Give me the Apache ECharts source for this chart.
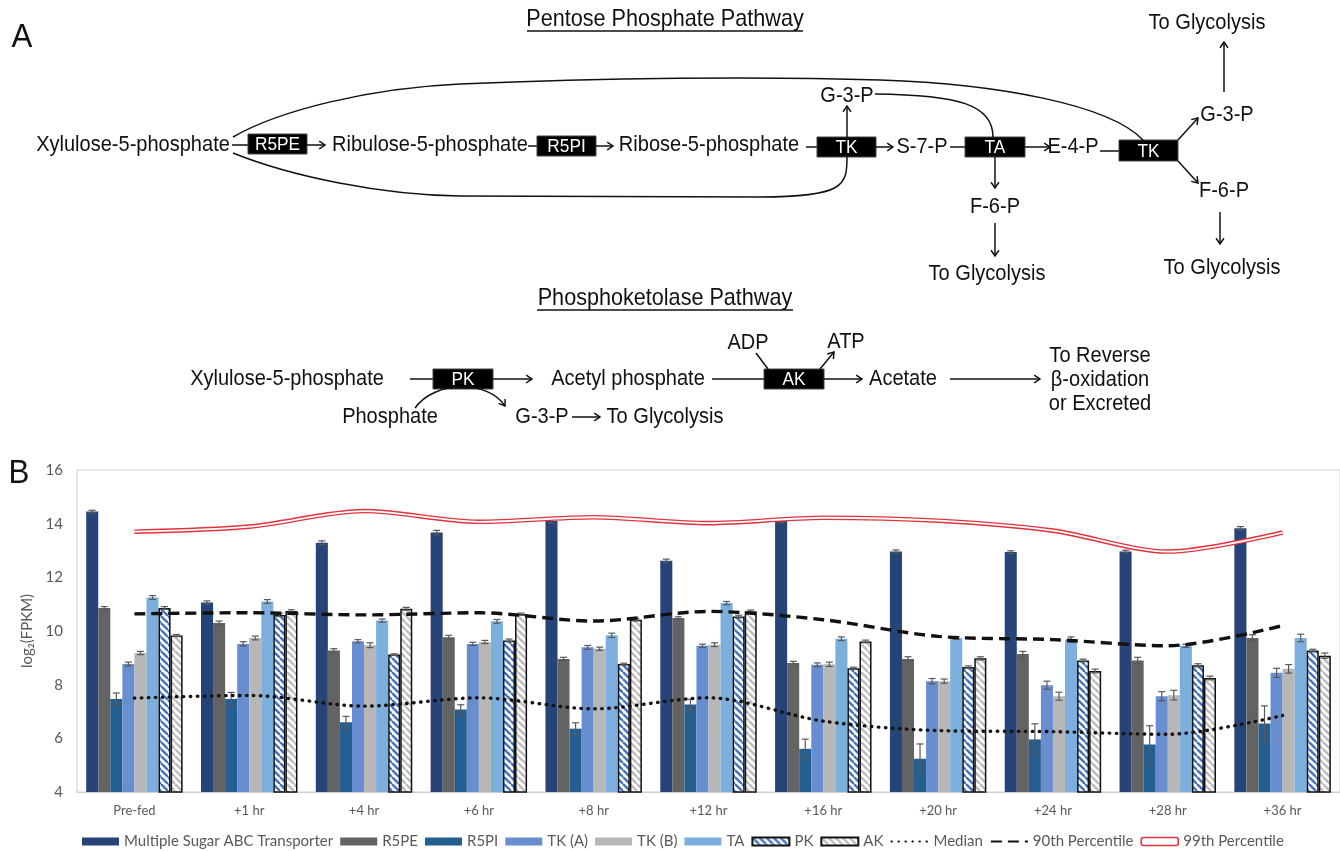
<!DOCTYPE html>
<html>
<head>
<meta charset="utf-8">
<title>Pentose phosphate / phosphoketolase pathway expression</title>
<script src="https://cdn.jsdelivr.net/npm/echarts@6/dist/echarts.min.js"></script>
<style>
  html, body { margin: 0; padding: 0; background: #fff; }
  #chart { width: 1340px; height: 851px; }
</style>
</head>
<body>
<div id="chart"></div>
<script>
// ---- data ----
const timepoints = ['Pre-fed', '+1 hr', '+4 hr', '+6 hr', '+8 hr', '+12 hr', '+16 hr', '+20 hr', '+24 hr', '+28 hr', '+36 hr']

const sugarAbc    = [14.45, 11.06, 13.29, 13.67, 14.10, 12.62, 14.10, 12.96, 12.94, 12.96, 13.83]
const sugarAbcErr = [0.05, 0.06, 0.07, 0.08, 0.08, 0.06, 0.07, 0.06, 0.05, 0.05, 0.06]
const r5pe        = [10.86, 10.30, 9.27, 9.77, 8.96, 10.48, 8.81, 8.96, 9.14, 8.90, 9.74]
const r5peErr     = [0.05, 0.07, 0.07, 0.07, 0.06, 0.05, 0.06, 0.08, 0.10, 0.12, 0.12]
const r5pi        = [7.47, 7.47, 6.60, 7.07, 6.36, 7.26, 5.61, 5.24, 5.96, 5.77, 6.55]
const r5piErr     = [0.22, 0.24, 0.22, 0.18, 0.22, 0.20, 0.36, 0.55, 0.58, 0.70, 0.66]
const tkA         = [8.77, 9.52, 9.62, 9.52, 9.39, 9.45, 8.74, 8.13, 7.98, 7.57, 8.44]
const tkAErr      = [0.07, 0.08, 0.06, 0.06, 0.07, 0.06, 0.07, 0.10, 0.15, 0.17, 0.17]
const tkB         = [9.18, 9.74, 9.47, 9.59, 9.34, 9.49, 8.76, 8.13, 7.57, 7.61, 8.59]
const tkBErr      = [0.06, 0.07, 0.09, 0.06, 0.06, 0.07, 0.08, 0.08, 0.15, 0.18, 0.16]
const ta          = [11.25, 11.10, 10.39, 10.36, 9.84, 11.04, 9.71, 9.74, 9.68, 9.45, 9.74]
const taErr       = [0.07, 0.07, 0.06, 0.07, 0.08, 0.06, 0.07, 0.05, 0.10, 0.06, 0.14]
const pk          = [10.86, 10.60, 9.12, 9.65, 8.77, 10.54, 8.61, 8.66, 8.90, 8.72, 9.27]
const pkErr       = [0.05, 0.06, 0.03, 0.05, 0.03, 0.05, 0.04, 0.04, 0.05, 0.06, 0.05]
const ak          = [9.83, 10.75, 10.83, 10.63, 10.42, 10.73, 9.61, 8.98, 8.51, 8.25, 9.08]
const akErr       = [0.04, 0.04, 0.05, 0.04, 0.04, 0.05, 0.05, 0.06, 0.07, 0.07, 0.10]

const median = [7.50, 7.60, 7.20, 7.51, 7.10, 7.51, 6.64, 6.29, 6.25, 6.15, 6.85]
const p90    = [10.64, 10.68, 10.60, 10.68, 10.37, 10.73, 10.42, 9.80, 9.68, 9.45, 10.20]
const p99    = [13.70, 13.89, 14.47, 14.07, 14.24, 14.02, 14.22, 14.11, 13.74, 12.96, 13.67]

const yMin = 4
const yMax = 16
const yStep = 2

// ---- look ----
const CFONT = 'Lato, "DejaVu Sans", sans-serif'
const DFONT = '"Liberation Sans", Arial, sans-serif'
const SQUEEZE = 0.91   // the diagram font is a narrow humanist face
const GREY_TXT = '#595959'
const INK = '#111'
const RED = '#e0333d'
const NBARS = 8
const GAP = 0.16

// diagonal hatch used by the PK / AK bars
function stripes(ink) {
  const c = document.createElement('canvas')
  c.width = c.height = 7
  const g = c.getContext('2d')
  g.fillStyle = '#fff'
  g.fillRect(0, 0, 7, 7)
  g.strokeStyle = ink
  g.lineWidth = 2.4
  for (const k of [-7, 0, 7]) {
    g.beginPath()
    g.moveTo(k, 0)
    g.lineTo(k + 7, 7)
    g.stroke()
  }
  return c
}

const barDefs = [
  { name: 'Multiple Sugar ABC Transporter', vals: sugarAbc, errs: sugarAbcErr, style: { color: '#264478' } },
  { name: 'R5PE', vals: r5pe, errs: r5peErr, style: { color: '#636363' } },
  { name: 'R5PI', vals: r5pi, errs: r5piErr, style: { color: '#255e91' } },
  { name: 'TK (A)', vals: tkA, errs: tkAErr, style: { color: '#698ed0' } },
  { name: 'TK (B)', vals: tkB, errs: tkBErr, style: { color: '#b7b7b7' } },
  { name: 'TA', vals: ta, errs: taErr, style: { color: '#7cafdd' } },
  { name: 'PK', vals: pk, errs: pkErr,
    style: { color: { image: stripes('#4472c4'), repeat: 'repeat' }, borderColor: INK, borderWidth: 1.5 } },
  { name: 'AK', vals: ak, errs: akErr,
    style: { color: { image: stripes('#bdbdbd'), repeat: 'repeat' }, borderColor: INK, borderWidth: 1.5 } },
]

function errorSeries(def, idx) {
  return {
    type: 'custom',
    name: def.name + ' err',
    silent: true,
    z: 3,
    data: def.vals.map((v, i) => [i, v, def.errs[i]]),
    renderItem(params, api) {
      const c = api.value(0)
      const v = api.value(1)
      const e = api.value(2)
      const band = api.size([1, 0])[0]
      const bw = band * (1 - GAP) / NBARS
      const x = api.coord([c, v])[0] + (idx - (NBARS - 1) / 2) * bw
      const hi = api.coord([c, v + e])[1]
      const lo = api.coord([c, v - e])[1]
      const st = { stroke: GREY_TXT, lineWidth: 1.2 }
      return {
        type: 'group',
        children: [
          { type: 'line', shape: { x1: x, y1: hi, x2: x, y2: lo }, style: st },
          { type: 'line', shape: { x1: x - 3.5, y1: hi, x2: x + 3.5, y2: hi }, style: st },
          { type: 'line', shape: { x1: x - 3.5, y1: lo, x2: x + 3.5, y2: lo }, style: st },
        ],
      }
    },
  }
}

// ---- panel A helpers ----
function label(x, y, text, size, extra, squeeze) {
  return {
    type: 'text', silent: true, x, y, scaleX: squeeze || SQUEEZE,
    style: Object.assign({
      x: 0, y: 0, text, fill: INK, fontSize: size || 22, fontFamily: DFONT,
      align: 'center', verticalAlign: 'middle',
    }, extra || {}),
  }
}
function seg(x1, y1, x2, y2) {
  return { type: 'line', silent: true, shape: { x1, y1, x2, y2 }, style: { stroke: INK, lineWidth: 1.5 } }
}
function head(x, y, ang) {
  const L = 7, w = 0.6
  return {
    type: 'polyline', silent: true,
    shape: { points: [
      [x - L * Math.cos(ang - w), y - L * Math.sin(ang - w)],
      [x, y],
      [x - L * Math.cos(ang + w), y - L * Math.sin(ang + w)],
    ] },
    style: { stroke: INK, lineWidth: 1.5, fill: null },
  }
}
function arrow(x1, y1, x2, y2) {
  return [seg(x1, y1, x2, y2), head(x2, y2, Math.atan2(y2 - y1, x2 - x1))]
}
function curve(x1, y1, cpx1, cpy1, cpx2, cpy2, x2, y2) {
  return {
    type: 'bezierCurve', silent: true,
    shape: { x1, y1, cpx1, cpy1, cpx2, cpy2, x2, y2 },
    style: { stroke: INK, lineWidth: 1.5, fill: null },
  }
}
function enzyme(x0, y0, x1, y1, name) {
  return [
    { type: 'rect', silent: true, shape: { x: x0, y: y0, width: x1 - x0, height: y1 - y0 },
      style: { fill: '#000', stroke: '#444', lineWidth: 1 } },
    label((x0 + x1) / 2, (y0 + y1) / 2 + 1, name, 19, { fill: '#fff' }),
  ]
}
function title(x, y, text, x0, x1) {
  return [label(x, y, text, 24, null, 0.9), seg(x0, y + 12, x1, y + 12)]
}

const diagram = [
  label(22, 38, 'A', 34, null, 0.92),
  label(19, 474, 'B', 34, null, 0.92),

  // Pentose phosphate pathway
  ...title(665, 19, 'Pentose Phosphate Pathway', 527, 803),
  label(133, 145, 'Xylulose-5-phosphate'),
  seg(232, 145, 248, 145),
  ...enzyme(248, 134, 307, 154, 'R5PE'),
  ...arrow(307, 145, 325, 145),
  label(430, 145, 'Ribulose-5-phosphate'),
  seg(528, 146, 537, 146),
  ...enzyme(537, 136, 596, 156, 'R5PI'),
  ...arrow(596, 146, 613, 146),
  label(709, 145, 'Ribose-5-phosphate'),
  seg(806, 147, 817, 147),
  ...enzyme(817, 137, 876, 157, 'TK'),
  ...arrow(876, 147, 893, 147),
  label(922, 147, 'S-7-P'),
  seg(950, 147, 965, 147),
  ...enzyme(965, 137, 1025, 157, 'TA'),
  ...arrow(1025, 147, 1050, 147),
  label(1073, 147, 'E-4-P'),
  seg(1100, 151, 1119, 151),
  ...enzyme(1119, 140, 1178, 161, 'TK'),

  // TK -> G-3-P (up), G-3-P -> TA
  ...arrow(847, 137, 847, 106),
  label(847, 96, 'G-3-P'),
  curve(875, 94, 960, 95, 993, 105, 993, 137),
  // TA -> F-6-P -> glycolysis
  ...arrow(995, 157, 995, 188),
  label(995, 207, 'F-6-P'),
  ...arrow(995, 223, 995, 256),
  label(987, 274, 'To Glycolysis'),
  // second TK products
  ...arrow(1178, 140, 1198, 118),
  label(1227, 115, 'G-3-P'),
  ...arrow(1224, 92, 1224, 42),
  label(1207, 23, 'To Glycolysis'),
  ...arrow(1178, 161, 1198, 183),
  label(1224, 191, 'F-6-P'),
  ...arrow(1220, 212, 1220, 244),
  label(1222, 268, 'To Glycolysis'),

  // xylulose-5-P feeding both transketolase steps
  curve(233, 137, 280, 110, 370, 88, 460, 84),
  curve(460, 84, 600, 78, 760, 76, 880, 80),
  curve(880, 80, 1000, 84, 1110, 105, 1143, 140),
  curve(233, 153, 290, 176, 380, 195, 460, 196),
  seg(460, 196, 760, 197),
  curve(760, 197, 845, 197, 847, 185, 847, 157),

  // Phosphoketolase pathway
  ...title(665, 298, 'Phosphoketolase Pathway', 537, 793),
  label(287, 379, 'Xylulose-5-phosphate'),
  seg(410, 379, 433, 379),
  ...enzyme(433, 369, 493, 389, 'PK'),
  ...arrow(493, 379, 532, 379),
  label(628, 379, 'Acetyl phosphate'),
  seg(712, 379, 764, 379),
  ...enzyme(764, 369, 824, 389, 'AK'),
  label(748, 343, 'ADP'),
  seg(756, 353, 768, 369),
  label(846, 342, 'ATP'),
  ...arrow(820, 369, 834, 352),
  ...arrow(824, 379, 862, 379),
  label(903, 379, 'Acetate'),
  ...arrow(950, 379, 1040, 379),
  label(1100, 356, 'To Reverse'),
  label(1100, 380, 'β-oxidation'),
  label(1100, 404, 'or Excreted'),
  label(390, 417, 'Phosphate'),
  curve(415, 408, 435, 380, 488, 380, 505, 406),
  head(505, 406, Math.atan2(26, 17)),
  label(542, 417, 'G-3-P'),
  ...arrow(572, 417, 600, 417),
  label(665, 417, 'To Glycolysis'),
]

// ---- chart ----
const series = []
barDefs.forEach((d) => {
  series.push({
    name: d.name, type: 'bar', data: d.vals, itemStyle: d.style,
    barGap: '0%', barCategoryGap: (GAP * 100) + '%', z: 2,
  })
})
barDefs.forEach((d, i) => series.push(errorSeries(d, i)))
series.push(
  { name: 'Median', type: 'line', data: median, smooth: 0.3, symbol: 'none', z: 4,
    lineStyle: { color: INK, width: 3.4, type: [0.5, 6.5], cap: 'round' } },
  { name: '90th Percentile', type: 'line', data: p90, smooth: 0.3, symbol: 'none', z: 4,
    lineStyle: { color: INK, width: 3.4, type: [11, 6] } },
  { name: '99th Percentile', type: 'line', data: p99, smooth: 0.3, symbol: 'none', z: 4,
    lineStyle: { color: RED, width: 4.6 } },
  { name: '99th inner', type: 'line', data: p99, smooth: 0.3, symbol: 'none', z: 5, silent: true,
    lineStyle: { color: '#fff', width: 1.8 } },
)

// line entries keep only the line sample: hide the marker dot
const legendData = barDefs.map((d) => ({ name: d.name, icon: 'rect' }))
legendData.push(
  { name: 'Median', itemStyle: { opacity: 0 } },
  { name: '90th Percentile', itemStyle: { opacity: 0 } },
  { name: '99th Percentile', icon: 'roundRect', itemStyle: { color: '#fff', borderColor: RED, borderWidth: 1.6 } },
)

const chart = echarts.init(document.getElementById('chart'), null, { renderer: 'canvas' })
chart.setOption({
  animation: false,
  backgroundColor: '#fff',
  textStyle: { fontFamily: CFONT },
  graphic: { elements: diagram },
  grid: { left: 77, top: 470, width: 1271, height: 322, show: true, borderColor: '#d0d0d0', borderWidth: 1 },
  legend: {
    data: legendData,
    left: 77, top: 829,
    itemWidth: 37, itemHeight: 8, itemGap: 7,
    selectedMode: false,
    textStyle: { color: GREY_TXT, fontSize: 15, fontFamily: CFONT },
  },
  xAxis: {
    type: 'category', data: timepoints,
    axisTick: { show: false },
    axisLine: { lineStyle: { color: '#d0d0d0' } },
    axisLabel: { color: GREY_TXT, fontSize: 13, margin: 12 },
  },
  yAxis: {
    type: 'value', min: yMin, max: yMax, interval: yStep,
    splitLine: { show: false },
    axisLine: { show: false },
    axisTick: { show: false },
    axisLabel: { color: GREY_TXT, fontSize: 15, margin: 14 },
    name: 'log₂(FPKM)', nameLocation: 'middle', nameGap: 22,
    nameTextStyle: { color: GREY_TXT, fontSize: 15, fontFamily: CFONT },
  },
  series,
})
</script>
</body>
</html>
